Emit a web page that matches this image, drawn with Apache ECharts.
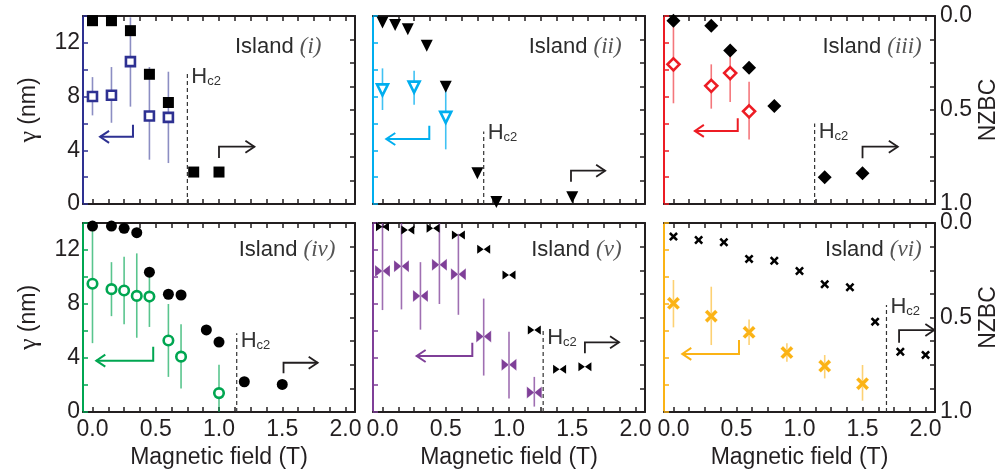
<!DOCTYPE html>
<html><head><meta charset="utf-8">
<script src="https://cdn.jsdelivr.net/npm/echarts@6/dist/echarts.min.js"></script>
<style>html,body{margin:0;padding:0;background:#fff}#c{width:1001px;height:474px}</style>
</head><body><div id="c"></div>
<script>
// ---------- data ----------
const panelNames = ['(i)', '(ii)', '(iii)', '(iv)', '(v)', '(vi)'];
const xTickValues = [0,0.125,0.25,0.375,0.5,0.625,0.75,0.875,1,1.125,1.25,1.375,1.5,1.625,1.75,1.875,2];
const xLabelValues = [0, 0.5, 1.0, 1.5, 2.0];
const gammaTickValues = [0,2,4,6,8,10,12,14];
const gammaLabelValues = [0,4,8,12];
const nzbcTickValues = [0,0.125,0.25,0.375,0.5,0.625,0.75,0.875,1];
const nzbcLabelValues = [0,0.5,1.0];

// Island (i)
const fieldI_N = [0,0.15,0.3,0.45,0.6,0.8,1.0];
const nzbcI = [0.025,0.025,0.078,0.31,0.46,0.83,0.83];
const fieldI_G = [0,0.15,0.3,0.45,0.6];
const gammaI = [8.0,8.1,10.6,6.55,6.45];
const gammaI_lo = [6.6,6.05,7.25,3.3,3.05];
const gammaI_hi = [9.45,10.2,13.9,10.2,9.85];
// Island (ii)
const fieldII_N = [0,0.1,0.2,0.35,0.5,0.75,0.9,1.5];
const nzbcII = [0.035,0.048,0.071,0.158,0.376,0.837,0.99,0.964];
const fieldII_G = [0,0.25,0.5];
const gammaII = [8.5,8.7,6.45];
const gammaII_lo = [7.0,7.4,4.07];
const gammaII_hi = [10.1,9.93,8.5];
// Island (iii)
const fieldIII_N = [0,0.3,0.45,0.6,0.8,1.2,1.5];
const nzbcIII = [0.025,0.052,0.184,0.275,0.479,0.858,0.837];
const fieldIII_G = [0,0.3,0.45,0.6];
const gammaIII = [10.4,8.8,9.75,6.9];
const gammaIII_lo = [7.5,7.1,7.6,4.8];
const gammaIII_hi = [13.7,10.4,11.1,9.1];
// Island (iv)
const fieldIV_N = [0,0.15,0.25,0.35,0.45,0.6,0.7,0.9,1.0,1.2,1.5];
const nzbcIV = [0.016,0.016,0.028,0.051,0.26,0.377,0.381,0.566,0.63,0.84,0.854];
const fieldIV_G = [0,0.15,0.25,0.35,0.45,0.6,0.7,1.0];
const gammaIV = [9.5,9.1,9.0,8.6,8.55,5.3,4.1,1.4];
const gammaIV_lo = [5.1,7.1,6.5,5.5,6.3,2.6,1.75,0];
const gammaIV_hi = [13.5,11.1,11.5,11.75,10.15,8.0,6.5,3.5];
// Island (v)
const fieldV_N = [0,0.2,0.4,0.6,0.8,1.0,1.2,1.4,1.6];
const nzbcV = [0.02,0.037,0.028,0.063,0.139,0.275,0.566,0.774,0.76];
const fieldV_G = [0,0.15,0.3,0.45,0.6,0.8,1.0,1.2];
const gammaV = [10.45,10.8,8.6,10.9,10.2,5.6,3.5,1.45];
const gammaV_lo = [7.55,7.6,6.1,8.0,7.2,2.7,1.0,0.4];
const gammaV_hi = [14,14,11.1,14,13.2,8.4,5.95,2.6];
// Island (vi)
const fieldVI_N = [0,0.2,0.4,0.6,0.8,1.0,1.2,1.4,1.6,1.8,2.0];
const nzbcVI = [0.072,0.09,0.102,0.19,0.2,0.254,0.324,0.34,0.522,0.681,0.698];
const fieldVI_G = [0,0.3,0.6,0.9,1.2,1.5];
const gammaVI = [8.05,7.1,5.9,4.4,3.4,2.1];
const gammaVI_lo = [6.27,4.96,4.96,3.73,2.49,0.84];
const gammaVI_hi = [9.78,9.28,6.86,5.09,4.22,3.48];

const hc2Field = [0.75, 0.8, 1.12, 1.14, 1.27, 1.69];

const panels = [
  {fN: fieldI_N, n: nzbcI, fG: fieldI_G, g: gammaI, lo: gammaI_lo, hi: gammaI_hi},
  {fN: fieldII_N, n: nzbcII, fG: fieldII_G, g: gammaII, lo: gammaII_lo, hi: gammaII_hi},
  {fN: fieldIII_N, n: nzbcIII, fG: fieldIII_G, g: gammaIII, lo: gammaIII_lo, hi: gammaIII_hi},
  {fN: fieldIV_N, n: nzbcIV, fG: fieldIV_G, g: gammaIV, lo: gammaIV_lo, hi: gammaIV_hi},
  {fN: fieldV_N, n: nzbcV, fG: fieldV_G, g: gammaV, lo: gammaV_lo, hi: gammaV_hi},
  {fN: fieldVI_N, n: nzbcVI, fG: fieldVI_G, g: gammaVI, lo: gammaVI_lo, hi: gammaVI_hi}
];

// ---------- layout & style ----------
const COLORS = ['#2e3192','#00aeef','#ed1c24','#00a651','#7f3f98','#fbb315'];
const BAR_COLORS = ['rgba(46,49,146,0.55)','rgba(0,174,239,0.75)','rgba(237,28,36,0.6)','rgba(0,166,81,0.65)','rgba(127,63,152,0.75)','rgba(251,179,21,0.6)'];
const INK = '#231f20';
const FONT = '"Liberation Sans", Arial, Helvetica, sans-serif';
const SERIF = '"Liberation Serif", "Times New Roman", serif';
const FS = 23;
const lefts = [83, 373, 664], tops = [16, 223], W = 272, Hs = [188, 189];

const BOWTIE = 'path://M0,0 L9,5 L0,10 Z M18,0 L9,5 L18,10 Z';
const CROSS = 'path://M0,2 L2,0 L5,3 L8,0 L10,2 L7,5 L10,8 L8,10 L5,7 L2,10 L0,8 L3,5 Z';
const markers = [
  {black: {symbol:'rect', size:11}, open: {symbol:'rect', size:9, filled:false}},
  {black: {symbol:'triangle', size:12, rotate:180}, open: {symbol:'triangle', size:11, rotate:180, filled:false}},
  {black: {symbol:'diamond', size:14}, open: {symbol:'diamond', size:12, filled:false}},
  {black: {symbol:'circle', size:11}, open: {symbol:'circle', size:9.5, filled:false}},
  {black: {symbol:BOWTIE, size:[13,9]}, open: {symbol:BOWTIE, size:[15,12], filled:true}},
  {black: {symbol:CROSS, size:9}, open: {symbol:CROSS, size:13, filled:true}}
];
// annotation positions in data units (field, gamma)
const annot = [
  {island:[1.81,11.7], hcTop:9.8, hcLab:9.45, la:[0.32,5.9,5.0,0.06], ra:[1.0,3.43,4.27,1.28]},
  {island:[1.89,11.7], hcTop:5.4, hcLab:5.3, la:[0.37,5.83,4.84,0.03], ra:[1.49,1.66,2.48,1.76]},
  {island:[1.97,11.7], hcTop:6.0, hcLab:5.4, la:[0.51,6.38,5.44,0.17], ra:[1.5,3.40,4.27,1.78]},
  {island:[1.92,12.0], hcTop:5.83, hcLab:5.3, la:[0.48,4.84,3.8,0.03], ra:[1.51,2.87,3.65,1.78]},
  {island:[1.89,12.0], hcTop:6.2, hcLab:5.5, la:[0.71,5.13,4.15,0.27], ra:[1.60,4.35,5.16,1.87]},
  {island:[1.97,12.0], hcTop:7.93, hcLab:7.8, la:[0.52,5.33,4.30,0.07], ra:[1.79,5.13,6.07,2.07]}
];

const grid = [], xAxis = [], yAxis = [], series = [];
for (let p = 0; p < 6; p++) {
  const row = Math.floor(p / 3), col = p % 3;
  grid.push({left: lefts[col], top: tops[row], width: W, height: Hs[row]});
  const tick = {show:true, inside:true, length:5, lineStyle:{color:INK, width:1.5}};
  xAxis.push({
    gridIndex:p, type:'value', min:-0.075, max:2.075, position:'bottom',
    axisLine:{show:true, onZero:false, lineStyle:{color:INK, width:2}},
    axisTick:Object.assign({customValues:xTickValues}, tick),
    axisLabel:{show:row===1, customValues:xLabelValues, formatter:v=>v.toFixed(1), color:INK, fontFamily:FONT, fontSize:FS, margin:6},
    splitLine:{show:false},
    name: row===1 ? 'Magnetic field (T)' : '', nameLocation:'middle', nameGap:34,
    nameTextStyle:{color:INK, fontFamily:FONT, fontSize:FS}
  });
  xAxis.push({
    gridIndex:p, type:'value', min:-0.075, max:2.075, position:'top',
    axisLine:{show:true, onZero:false, lineStyle:{color:INK, width:2}},
    axisTick:Object.assign({customValues:xTickValues}, tick),
    axisLabel:{show:false}, splitLine:{show:false}
  });
  yAxis.push({
    gridIndex:p, type:'value', min:0, max:14, position:'left',
    axisLine:{show:true, onZero:false, lineStyle:{color:COLORS[p], width:2}},
    axisTick:{show:true, inside:true, length:5, customValues:gammaTickValues, lineStyle:{color:COLORS[p], width:1.5}},
    axisLabel:{show:col===0, customValues:gammaLabelValues, color:INK, fontFamily:FONT, fontSize:FS, margin:3},
    splitLine:{show:false},
    name: col===0 ? '{g|γ} (nm)' : '', nameLocation:'middle', nameGap:41, nameRotate:90,
    nameTextStyle:{color:INK, fontFamily:FONT, fontSize:FS, rich:{g:{fontFamily:SERIF, fontSize:FS+3, color:INK}}}
  });
  yAxis.push({
    gridIndex:p, type:'value', min:0, max:1, inverse:true, position:'right',
    axisLine:{show:true, onZero:false, lineStyle:{color:INK, width:2}},
    axisTick:Object.assign({customValues:nzbcTickValues}, tick),
    axisLabel:{show:col===2, customValues:nzbcLabelValues, formatter:v=>v.toFixed(1), color:INK, fontFamily:FONT, fontSize:FS, margin:5},
    splitLine:{show:false},
    name: col===2 ? 'NZBC' : '', nameLocation:'middle', nameGap:42, nameRotate:90,
    nameTextStyle:{color:INK, fontFamily:FONT, fontSize:FS}
  });
  const xi = p*2, yg = p*2, yn = p*2+1;
  const d = panels[p];
  // error bars
  series.push({
    type:'custom', xAxisIndex:xi, yAxisIndex:yg, z:2, clip:false,
    data: d.fG.map((f,i)=>[f, d.lo[i], d.hi[i]]),
    renderItem: (params, api) => {
      const a = api.coord([api.value(0), api.value(1)]);
      const b = api.coord([api.value(0), api.value(2)]);
      return {type:'line', shape:{x1:a[0], y1:a[1], x2:b[0], y2:b[1]}, style:{stroke:BAR_COLORS[p], lineWidth:1.6}};
    }
  });
  // gamma points
  const om = markers[p].open;
  series.push({
    type:'scatter', xAxisIndex:xi, yAxisIndex:yg, z:3, clip:false,
    symbol:om.symbol, symbolSize:om.size, symbolRotate:om.rotate||0,
    itemStyle: om.filled ? {color:COLORS[p], opacity:1, borderColor:'rgba(255,255,255,0.3)', borderWidth:0.8}
                         : {color:'#fff', opacity:1, borderColor:COLORS[p], borderWidth:2.6},
    data: d.fG.map((f,i)=>[f, d.g[i]])
  });
  // NZBC points
  const bm = markers[p].black;
  series.push({
    type:'scatter', xAxisIndex:xi, yAxisIndex:yn, z:4, clip:false,
    symbol:bm.symbol, symbolSize:bm.size, symbolRotate:bm.rotate||0,
    itemStyle:{color:'#000', opacity:1},
    data: d.fN.map((f,i)=>[f, d.n[i]])
  });
  // annotations
  const A = annot[p];
  series.push({
    type:'custom', xAxisIndex:xi, yAxisIndex:yg, z:5, clip:false, silent:true,
    data:[[hc2Field[p], A.hcTop]],
    renderItem: (params, api) => {
      const hc = api.value(0);
      const h0 = api.coord([hc, 0]), h1 = api.coord([hc, api.value(1)]);
      const hl = api.coord([hc, A.hcLab]);
      const isl = api.coord(A.island);
      const la = A.la, ra = A.ra;
      const l1 = api.coord([la[0], la[1]]), l2 = api.coord([la[0], la[2]]), l3 = api.coord([la[3], la[2]]);
      const r1 = api.coord([ra[0], ra[1]]), r2 = api.coord([ra[0], ra[2]]), r3 = api.coord([ra[3], ra[2]]);
      return {type:'group', children:[
        {type:'line', shape:{x1:h0[0], y1:h0[1], x2:h1[0], y2:h1[1]}, style:{stroke:'#333', lineWidth:1.2, lineDash:[4,3]}},
        {type:'text', x:hl[0]+4, y:hl[1], style:{text:'H{s|c2}', fill:'#333', font:'22px '+FONT, verticalAlign:'middle', align:'left',
          rich:{s:{fontSize:13, fontFamily:FONT, fill:'#333', verticalAlign:'bottom'}}}},
        {type:'text', x:isl[0], y:isl[1], style:{text:'{a|Island }{b|' + panelNames[p] + '}', align:'right', verticalAlign:'middle',
          rich:{a:{fontSize:22, fontFamily:FONT, fill:'#2b2b2b'}, b:{fontSize:23, fontFamily:SERIF, fontStyle:'italic', fill:'#555'}}}},
        {type:'polyline', shape:{points:[l1, l2, l3]}, style:{stroke:COLORS[p], lineWidth:2, fill:null}},
        {type:'polyline', shape:{points:[[l3[0]+9, l3[1]-6], l3, [l3[0]+9, l3[1]+6]]}, style:{stroke:COLORS[p], lineWidth:2, fill:null}},
        {type:'polyline', shape:{points:[r1, r2, r3]}, style:{stroke:INK, lineWidth:1.8, fill:null}},
        {type:'polyline', shape:{points:[[r3[0]-9, r3[1]-6], r3, [r3[0]-9, r3[1]+6]]}, style:{stroke:INK, lineWidth:1.8, fill:null}}
      ]};
    }
  });
}

const chart = echarts.init(document.getElementById('c'), null, {renderer:'canvas'});
chart.setOption({animation:false, backgroundColor:'#fff', grid, xAxis, yAxis, series});
</script></body></html>
